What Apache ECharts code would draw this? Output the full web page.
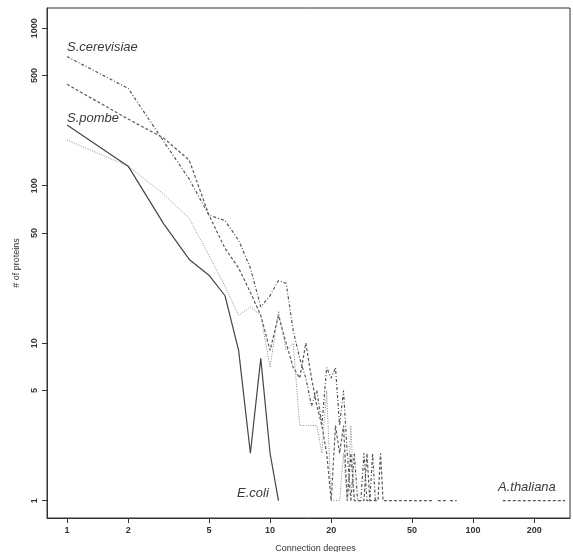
<!DOCTYPE html>
<html lang="en">
<head>
    <meta charset="UTF-8">
    <title>Connection degrees</title>
    <script src="https://cdn.jsdelivr.net/npm/echarts@6/dist/echarts.min.js" type="text/javascript"></script>
    <style>
        html, body { margin: 0; padding: 0; background: #fff; overflow: hidden; }
        #main { width: 573px; height: 552px; }
    </style>
</head>
<body>
<div id="main"></div>
<script type="text/javascript">
    // values (degree, # of proteins); null = gap in the line
    var cerevisiaeDeg = [1,2,3,4,5,6,7,8,9,10,11,12,13,14,15,16,17,18,19,20,21,22,23,24,25,26,27,28,29,30,31,32,33];
    var cerevisiaeCnt = [660,415,190,110,65,60,45,30,17,20,25,24,12,8,6,4,5,3,7,6,7,3,5,2,1,2,1,1,2,1,1,2,1];

    var thalianaDeg = [1,2,3,4,5,6,7,8,9,10,11,12,13,14,15,16,17,18,19,20,21,22,23,24,25,26,27,29,30,31,34,35,36,40,45,50,55,63,65,67,74,76,77,83,110,140,284];
    var thalianaCnt = [440,265,200,145,65,40,30,21,15,9,15,10,7,6,10,6,4,3,2,1,3,2,3,1,2,1,1,1,2,1,1,2,1,1,1,1,1,1,null,1,1,null,1,1,null,1,1];

    var pombeDeg = [1,2,3,4,5,6,7,8,9,10,11,12,13,14,15,16,17,18,19,20,21,22,23,24,25,26,27];
    var pombeCnt = [195,133,88,62,36,23,15,17,15,7,16,9,10,3,3,3,3,2,5,1,1,1,2,1,3,1,1];

    var coliDeg = [1,2,3,4,5,6,7,8,9,10,11];
    var coliCnt = [243,133,57,34,27,20,9,2,8,2,1];

    var xTicks = [1,2,5,10,20,50,100,200];
    var yTicks = [1,5,10,50,100,500,1000];

    function pairs(deg, cnt) {
        var out = [];
        for (var i = 0; i < deg.length; i++) {
            out.push([deg[i], cnt[i] === null ? '-' : cnt[i]]);
        }
        return out;
    }

    var myChart = echarts.init(document.getElementById('main'));
    var labelFont = {fontFamily: 'Liberation Sans', fontSize: 13, fontStyle: 'italic', fill: '#3a3a3a'};
    var plain = function (v) { return String(Math.round(v)); };

    myChart.setOption({
        animation: false,
        backgroundColor: '#fff',
        grid: {
            left: 47, right: 3, top: 8, bottom: 34,
            outerBoundsMode: 'none',
            containLabel: false,
            show: true, borderColor: '#333', borderWidth: 1
        },
        xAxis: {
            type: 'log',
            logBase: 10,
            min: 0.797,
            max: 300,
            name: 'Connection degrees',
            nameLocation: 'middle',
            nameGap: 26,
            nameTextStyle: {fontFamily: 'Liberation Sans', fontSize: 9, color: '#333', padding: [0, 0, 0, 14]},
            axisLine: {show: true, lineStyle: {color: '#333', width: 1}},
            axisTick: {show: true, length: 5, lineStyle: {color: '#333'}, customValues: xTicks},
            axisLabel: {
                customValues: xTicks,
                formatter: plain,
                margin: 8,
                fontFamily: 'Liberation Sans', fontSize: 9, fontWeight: 'bold', color: '#333'
            },
            splitLine: {show: false},
            minorTick: {show: false}
        },
        yAxis: {
            type: 'log',
            logBase: 10,
            min: 0.776,
            max: 1343,
            name: '# of proteins',
            nameLocation: 'middle',
            nameGap: 26,
            nameRotate: 90,
            nameTextStyle: {fontFamily: 'Liberation Sans', fontSize: 9, color: '#333'},
            axisLine: {show: true, lineStyle: {color: '#333', width: 1}},
            axisTick: {show: true, length: 5, lineStyle: {color: '#333'}, customValues: yTicks},
            axisLabel: {
                customValues: yTicks,
                formatter: plain,
                rotate: 90,
                margin: 8,
                fontFamily: 'Liberation Sans', fontSize: 9, fontWeight: 'bold', color: '#333'
            },
            splitLine: {show: false}
        },
        series: [
            {
                name: 'S.cerevisiae', type: 'line', symbol: 'none', connectNulls: false,
                lineStyle: {color: '#555', width: 1.2, type: [3, 2, 1, 2]},
                data: pairs(cerevisiaeDeg, cerevisiaeCnt)
            },
            {
                name: 'A.thaliana', type: 'line', symbol: 'none', connectNulls: false,
                lineStyle: {color: '#5a5a5a', width: 1.2, type: [3, 2]},
                data: pairs(thalianaDeg, thalianaCnt)
            },
            {
                name: 'S.pombe', type: 'line', symbol: 'none', connectNulls: false,
                lineStyle: {color: '#8a8a8a', width: 1, type: [1, 1.5]},
                data: pairs(pombeDeg, pombeCnt)
            },
            {
                name: 'E.coli', type: 'line', symbol: 'none',
                lineStyle: {color: '#444', width: 1.2, type: 'solid'},
                data: pairs(coliDeg, coliCnt)
            }
        ],
        graphic: [
            {type: 'text', left: 67, top: 41, style: Object.assign({text: 'S.cerevisiae'}, labelFont)},
            {type: 'text', left: 67, top: 112, style: Object.assign({text: 'S.pombe'}, labelFont)},
            {type: 'text', left: 237, top: 487, style: Object.assign({text: 'E.coli'}, labelFont)},
            {type: 'text', left: 498, top: 481, style: Object.assign({text: 'A.thaliana'}, labelFont)}
        ]
    });
</script>
</body>
</html>
